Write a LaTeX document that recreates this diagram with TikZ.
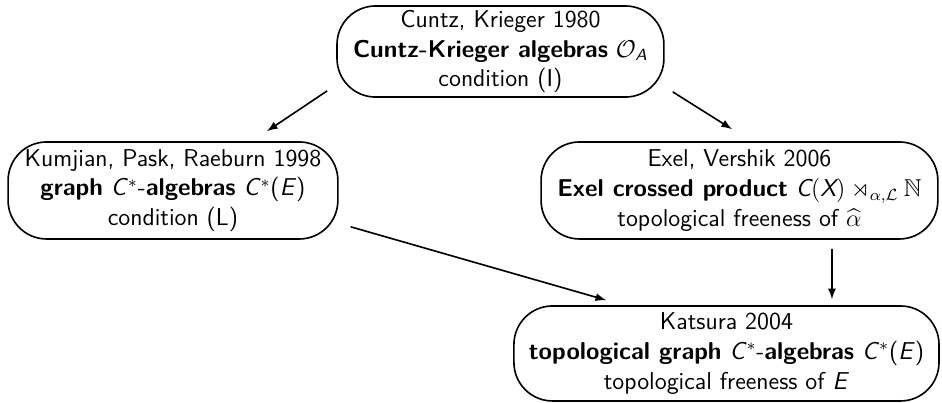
\documentclass[tikz,border=0pt]{standalone}
\usepackage{amsmath}
\usepackage{amssymb}
\usepackage{tikz}

\tikzset{
  paper/.style={draw, thick, rounded corners=19pt, align=center,
    inner sep=2pt, font=\sffamily\fontsize{12}{14.7}\selectfont}}

\begin{document}
\begin{tikzpicture}
  \useasboundingbox (0,0) rectangle (16.31,-6.977);

  \node[paper, minimum width=5.66cm, minimum height=1.54cm]
    (cuntz) at (8.665,-0.892)
    {Cuntz, Krieger 1980\\
     \textbf{Cuntz-Krieger algebras} $\mathcal{O}_{\textit{A}}$\\
     condition (I)};

  \node[paper, minimum width=5.71cm, minimum height=1.68cm]
    (kpr) at (2.995,-3.298)
    {Kumjian, Pask, Raeburn 1998\\
     \textbf{graph} \textit{C}$^*$-\textbf{algebras} \textit{C}$^*$(\textit{E})\\
     condition (L)};

  \node[paper, minimum width=6.87cm, minimum height=1.68cm]
    (exel) at (12.803,-3.298)
    {Exel, Vershik 2006\\
     \textbf{Exel crossed product} $\textit{C}(\textit{X}) \rtimes_{\alpha,\mathcal{L}} \mathbb{N}$\\
     topological freeness of $\widehat{\alpha}$};

  \node[paper, minimum width=7.36cm, minimum height=1.645cm]
    (katsura) at (12.578,-6.12)
    {Katsura 2004\\
     \textbf{topological graph} \textit{C}$^*$-\textbf{algebras} \textit{C}$^*$(\textit{E})\\
     topological freeness of \textit{E}};

  % arrows
  \draw[thick,-latex] ([shift={(-0.156,0.121)}]cuntz.south west) --
    ([shift={(1.628,0.173)}]kpr.north);
  \draw[thick,-latex] ([shift={(0.139,0.104)}]cuntz.south east) --
    ([shift={(-0.13,0.208)}]exel.north);
  \draw[thick,-latex] ([shift={(0.208,0.225)}]kpr.south east) --
    ([shift={(1.61,0.087)}]katsura.north west);
  \draw[thick,-latex] ([shift={(1.602,-0.156)}]exel.south) --
    ([shift={(1.827,0.104)}]katsura.north);
\end{tikzpicture}
\end{document}
